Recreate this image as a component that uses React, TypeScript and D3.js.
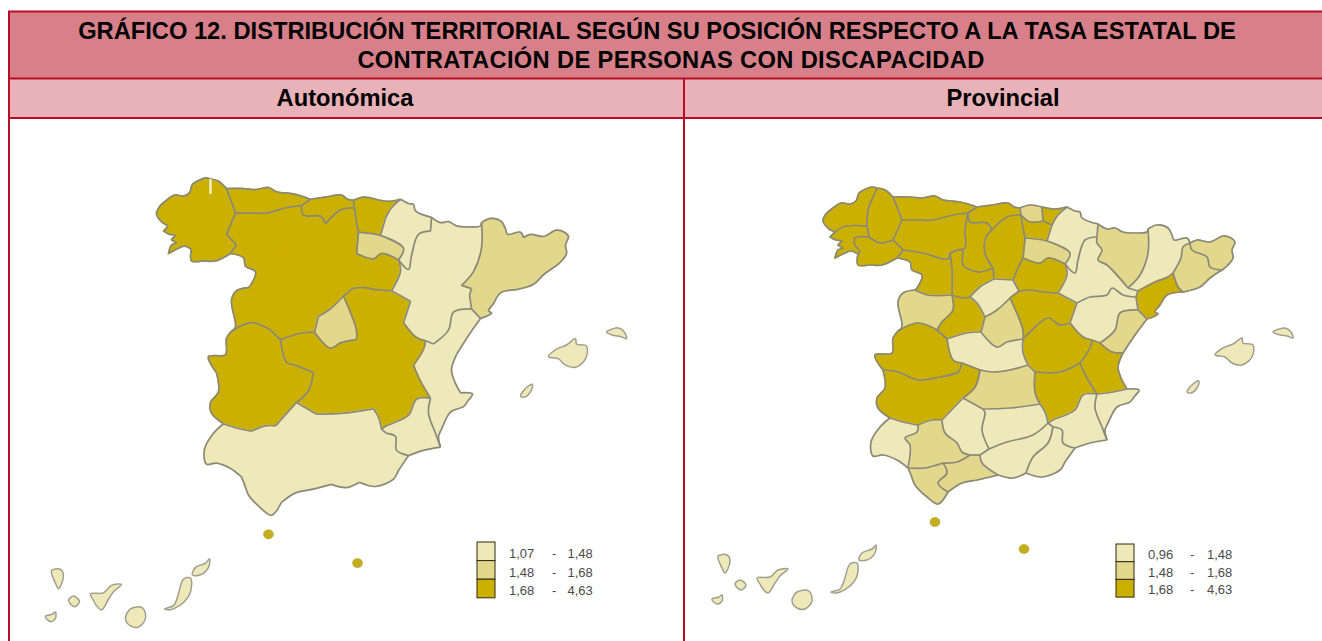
import React from 'react';
import * as d3 from 'd3';

const W = 1322, H = 641;
const FONT = '"Liberation Sans", Arial, sans-serif';

// colour classes: 0 = low, 1 = mid, 2 = high
const CLASS_COLORS = ['#EFE8B8', '#E3D78C', '#CCB000'];

const TITLE_LINES = [
  'GRÁFICO 12. DISTRIBUCIÓN TERRITORIAL SEGÚN SU POSICIÓN RESPECTO A LA TASA ESTATAL DE',
  'CONTRATACIÓN DE PERSONAS CON DISCAPACIDAD',
];
const PANEL_TITLES = ['Autonómica', 'Provincial'];
const LEGEND_AUTONOMICA = [['1,07', '1,48'], ['1,48', '1,68'], ['1,68', '4,63']];
const LEGEND_PROVINCIAL = [['0,96', '1,48'], ['1,48', '1,68'], ['1,68', '4,63']];

// province code -> class in the provincial map
const PROVINCE_CLASS: Record<string, number> = {
  ac: 2, lu: 2, po: 2, ou: 2, as: 2, cn: 2, bi: 1, ss: 2, vi: 2, na: 0, ri: 1,
  le: 2, pa: 2, bu: 2, zm: 2, vd: 2, so: 2, sa: 1, av: 2, sg: 0, md: 1, gu: 2,
  zg: 0, hu: 1, ll: 0, ge: 1, bc: 1, ta: 2, te: 0, cs: 1, vc: 2, cu: 2, to: 0,
  cr: 1, cc: 2, bj: 2, ab: 2, mu: 0, al: 0, ja: 0, cb: 0, se: 1, hv: 0, cd: 1,
  ma: 1, gr: 0, am: 0,
};

// autonomous communities and their class in the regional map
const COMMUNITIES: [string, number, string[]][] = [
  ['Galicia', 2, ['ac', 'lu', 'po', 'ou']],
  ['Asturias', 2, ['as']],
  ['Cantabria', 2, ['cn']],
  ['País Vasco', 2, ['bi', 'ss', 'vi']],
  ['Navarra', 0, ['na']],
  ['La Rioja', 1, ['ri']],
  ['Castilla y León', 2, ['le', 'pa', 'bu', 'zm', 'vd', 'so', 'sa', 'av', 'sg']],
  ['Madrid', 1, ['md']],
  ['Aragón', 0, ['zg', 'hu', 'te']],
  ['Cataluña', 1, ['ll', 'ge', 'bc', 'ta']],
  ['C. Valenciana', 0, ['cs', 'vc', 'al']],
  ['Castilla-La Mancha', 2, ['gu', 'cu', 'to', 'cr', 'ab']],
  ['Extremadura', 2, ['cc', 'bj']],
  ['Murcia', 0, ['mu']],
  ['Andalucía', 0, ['ja', 'cb', 'se', 'hv', 'cd', 'ma', 'gr', 'am']],
];

// shared borders in map grid units: "a-b" is between two provinces, "a" is coast or frontier
const BORDERS: [string, number[]][] = [
  ['ac', [830, 237, 834, 232, 829, 229, 823, 221, 826, 214, 833, 208, 841, 203, 850, 204, 856, 201, 859, 193, 866, 189, 872, 187, 877, 188]],
  ['po', [835, 258, 838, 250, 843, 248, 838, 245, 842, 241, 836, 240, 830, 237]],
  ['lu', [877, 188, 885, 190, 893, 197]],
  ['as', [893, 197, 910, 197, 922, 198, 935, 196, 943, 200, 960, 202, 977, 207]],
  ['cn', [977, 207, 992, 205, 1008, 203, 1014, 207, 1020, 208]],
  ['bi', [1020, 208, 1030, 205, 1042, 207]],
  ['ss', [1042, 207, 1055, 209, 1067, 207]],
  ['na', [1067, 207, 1075, 211, 1080, 212, 1082, 218, 1098, 224]],
  ['hu', [1098, 224, 1107, 229, 1115, 228, 1123, 232, 1136, 233, 1147, 232, 1148, 229]],
  ['ll', [1148, 229, 1157, 225, 1168, 228, 1172, 235, 1174, 240, 1187, 238, 1190, 243]],
  ['ge', [1190, 243, 1197, 240, 1210, 242, 1223, 236, 1231, 238, 1235, 242, 1232, 250, 1233, 258, 1228, 265, 1222, 270]],
  ['bc', [1222, 270, 1210, 278, 1200, 287, 1183, 292]],
  ['ta', [1183, 292, 1167, 295, 1160, 305, 1155, 312, 1158, 314, 1147, 319]],
  ['cs', [1147, 319, 1135, 335, 1123, 353]],
  ['vc', [1123, 353, 1118, 367, 1121, 378, 1127, 389]],
  ['al', [1127, 389, 1139, 390, 1134, 397, 1130, 402, 1117, 407, 1108, 423, 1105, 430, 1107, 440]],
  ['mu', [1107, 440, 1090, 443, 1075, 448]],
  ['am', [1075, 448, 1065, 462, 1060, 470, 1042, 477, 1026, 473]],
  ['gr', [1026, 473, 1013, 478, 998, 475]],
  ['ma', [998, 475, 977, 480, 962, 483, 948, 492]],
  ['cd', [948, 492, 938, 504, 927, 497, 915, 485, 911, 475, 908, 468]],
  ['hv', [908, 468, 897, 460, 883, 455, 873, 456, 871, 442, 880, 427, 890, 418]],
  ['bj', [890, 418, 878, 408, 877, 398, 885, 388, 883, 370]],
  ['cc', [883, 370, 875, 355, 892, 353, 893, 338, 898, 331]],
  ['sa', [898, 331, 902, 327, 898, 302, 903, 293, 915, 290]],
  ['zm', [915, 290, 917, 288, 922, 275, 912, 270, 910, 262, 897, 258]],
  ['ou', [897, 258, 882, 265, 870, 265, 858, 265, 858, 254]],
  ['po', [858, 254, 851, 251, 845, 253, 835, 258]],
  ['ac-po', [830, 237, 843, 227, 867, 226]],
  ['ac-lu', [867, 226, 868, 210, 873, 197, 877, 188]],
  ['po-lu', [867, 226, 869, 237]],
  ['po-ou', [869, 237, 855, 238, 855, 245, 860, 252, 858, 254]],
  ['lu-ou', [869, 237, 880, 243, 893, 240]],
  ['lu-as', [893, 197, 897, 207, 902, 220]],
  ['lu-le', [902, 220, 893, 240]],
  ['ou-le', [893, 240, 903, 250]],
  ['ou-zm', [903, 250, 897, 258]],
  ['as-le', [902, 220, 917, 220, 933, 220, 953, 215, 968, 213]],
  ['as-cn', [977, 207, 968, 213]],
  ['le-pa', [968, 213, 965, 230, 965, 248, 957, 250, 950, 253]],
  ['cn-pa', [968, 213, 970, 222, 987, 223, 992, 230]],
  ['cn-bu', [992, 230, 1007, 217, 1021, 215]],
  ['cn-bi', [1020, 208, 1021, 215]],
  ['bi-vi', [1021, 215, 1030, 222, 1043, 221]],
  ['bi-ss', [1042, 207, 1043, 221]],
  ['ss-vi', [1043, 221, 1052, 225]],
  ['ss-na', [1052, 225, 1058, 215, 1067, 207]],
  ['vi-bu', [1021, 215, 1023, 228, 1025, 238]],
  ['vi-ri', [1025, 238, 1043, 240, 1047, 241]],
  ['vi-na', [1052, 225, 1047, 241]],
  ['bu-ri', [1025, 238, 1023, 258]],
  ['ri-so', [1023, 258, 1040, 263, 1048, 258, 1065, 264]],
  ['ri-na', [1047, 241, 1070, 253, 1065, 264]],
  ['na-zg', [1065, 264, 1075, 273, 1078, 260, 1085, 240, 1097, 237]],
  ['na-hu', [1098, 224, 1097, 237]],
  ['hu-zg', [1097, 237, 1097, 243, 1102, 250, 1098, 260, 1107, 265, 1128, 288]],
  ['hu-ll', [1148, 229, 1148, 253, 1140, 275, 1128, 288]],
  ['zg-ll', [1128, 288, 1138, 291]],
  ['ll-bc', [1190, 243, 1183, 247, 1181, 258, 1173, 273]],
  ['ge-bc', [1190, 243, 1192, 250, 1207, 257, 1210, 267, 1222, 270]],
  ['ll-ta', [1138, 291, 1155, 282, 1168, 277, 1173, 273]],
  ['bc-ta', [1173, 273, 1178, 287, 1183, 292]],
  ['zg-ta', [1138, 291, 1136, 297]],
  ['te-ta', [1136, 297, 1138, 310]],
  ['ta-cs', [1138, 310, 1147, 319]],
  ['te-cs', [1138, 310, 1120, 313, 1115, 330, 1100, 343]],
  ['zg-so', [1065, 264, 1067, 275, 1058, 293]],
  ['zg-gu', [1058, 293, 1077, 303]],
  ['zg-te', [1077, 303, 1090, 297, 1107, 295, 1112, 288, 1123, 295, 1136, 297]],
  ['te-gu', [1077, 303, 1070, 323]],
  ['te-cu', [1070, 323, 1083, 337, 1092, 340]],
  ['te-vc', [1092, 340, 1100, 343]],
  ['cs-vc', [1100, 343, 1112, 352, 1123, 353]],
  ['cu-vc', [1092, 340, 1090, 348, 1080, 363]],
  ['ab-vc', [1080, 363, 1087, 378, 1097, 394]],
  ['vc-al', [1097, 394, 1113, 392, 1127, 389]],
  ['al-mu', [1097, 394, 1095, 408, 1102, 427, 1107, 440]],
  ['ab-mu', [1097, 394, 1083, 395, 1075, 410, 1053, 420, 1048, 423]],
  ['gr-mu', [1048, 423, 1053, 427]],
  ['am-mu', [1053, 427, 1062, 430, 1063, 443, 1075, 448]],
  ['gr-am', [1053, 427, 1048, 443, 1033, 457, 1026, 473]],
  ['ab-ja', [1048, 423, 1045, 412, 1040, 404]],
  ['ab-cr', [1040, 404, 1035, 392, 1035, 372]],
  ['ab-cu', [1035, 372, 1060, 372, 1080, 363]],
  ['cu-cr', [1028, 365, 1035, 372]],
  ['to-cu', [1023, 339, 1023, 352, 1028, 365]],
  ['to-cr', [980, 370, 993, 372, 1010, 370, 1028, 365]],
  ['to-bj', [962, 363, 980, 370]],
  ['to-cc', [947, 339, 953, 360, 962, 363]],
  ['to-av', [947, 339, 967, 333, 981, 332]],
  ['to-md', [981, 332, 997, 347, 1007, 342, 1023, 339]],
  ['cc-bj', [883, 370, 898, 372, 918, 380, 940, 377, 958, 372, 962, 363]],
  ['bj-cr', [980, 370, 975, 387, 963, 398]],
  ['cr-cb', [963, 398, 983, 409]],
  ['cr-ja', [983, 409, 1010, 408, 1040, 404]],
  ['bj-cb', [963, 398, 942, 420]],
  ['bj-se', [942, 420, 932, 420, 918, 425]],
  ['bj-hv', [918, 425, 903, 422, 890, 418]],
  ['hv-se', [918, 425, 917, 432, 905, 438, 910, 445, 908, 468]],
  ['se-cd', [908, 468, 925, 468, 943, 463]],
  ['se-ma', [943, 463, 957, 462, 970, 455]],
  ['se-cb', [942, 420, 945, 433, 957, 443, 962, 452, 970, 455]],
  ['cb-ma', [970, 455, 980, 455]],
  ['cb-gr', [980, 455, 989, 449]],
  ['cb-ja', [983, 409, 985, 413, 982, 430, 989, 449]],
  ['ja-gr', [989, 449, 1007, 442, 1033, 435, 1048, 423]],
  ['gr-ma', [980, 455, 982, 463, 998, 475]],
  ['ma-cd', [943, 463, 947, 473, 938, 483, 948, 492]],
  ['cc-sa', [898, 331, 918, 323, 937, 330]],
  ['cc-av', [937, 330, 947, 339]],
  ['sa-av', [937, 330, 942, 322, 953, 310, 952, 295]],
  ['sa-zm', [915, 290, 928, 295, 952, 295]],
  ['zm-le', [903, 250, 923, 253, 948, 259, 950, 253]],
  ['zm-vd', [950, 253, 952, 270, 952, 295]],
  ['vd-av', [952, 295, 963, 298, 970, 297]],
  ['vd-sg', [970, 297, 980, 287, 994, 279]],
  ['vd-bu', [993, 268, 994, 279]],
  ['vd-pa', [950, 253, 962, 250, 963, 265, 978, 272, 993, 268]],
  ['pa-bu', [993, 268, 985, 253, 986, 237, 992, 230]],
  ['bu-sg', [994, 279, 1013, 280]],
  ['bu-so', [1013, 280, 1018, 268, 1023, 258]],
  ['sg-so', [1013, 280, 1019, 291]],
  ['sg-gu', [1019, 291, 1010, 298]],
  ['so-gu', [1019, 291, 1030, 290, 1043, 292, 1058, 293]],
  ['sg-av', [970, 297, 977, 303, 985, 317]],
  ['md-sg', [985, 317, 997, 310, 1010, 298]],
  ['md-av', [985, 317, 981, 332]],
  ['md-gu', [1010, 298, 1023, 330, 1023, 339]],
  ['gu-cu', [1023, 339, 1032, 330, 1048, 318, 1060, 325, 1070, 323]],
];

// islands, always class 0
const ISLANDS: number[][] = [
  [1215, 355, 1223, 348, 1233, 344, 1242, 338, 1243, 343, 1253, 345, 1252, 357, 1242, 365, 1232, 363, 1225, 357],
  [1273, 332, 1279, 329, 1285, 328, 1291, 332, 1293, 338, 1287, 336, 1280, 335],
  [1187, 392, 1193, 384, 1199, 381, 1197, 388, 1191, 393],
  [718, 556, 727, 555, 730, 561, 725, 573, 722, 568],
  [735, 584, 740, 580, 746, 585, 741, 590],
  [712, 599, 719, 597, 722, 595, 722, 601, 718, 604, 715, 603],
  [757, 578, 770, 577, 778, 570, 788, 569, 780, 576, 775, 583, 768, 593, 763, 589, 760, 584],
  [797, 592, 809, 591, 812, 601, 805, 609, 797, 608, 792, 601],
  [831, 592, 840, 589, 844, 581, 850, 564, 857, 563, 857, 576, 850, 586, 840, 592, 836, 593],
  [859, 560, 862, 553, 872, 549, 876, 545, 875, 553, 867, 560],
];

const CITIES = [[935, 522], [1024, 549]]; // Ceuta, Melilla
const GALICIA_NOTCH = [877, 188, 877, 202];

type Pt = [number, number];

const toPts = (flat: number[]): Pt[] => d3.range(0, flat.length, 2).map(i => [flat[i], flat[i + 1]] as Pt);
const same = (a: Pt, b: Pt) => a[0] === b[0] && a[1] === b[1];

// chain the border pieces of one province into oriented pieces of a closed ring
function buildRing(code: string): Pt[][] {
  const pieces = BORDERS.filter(([k]) => k.split('-').includes(code)).map(([, f]) => toPts(f));
  const ring = [pieces.shift()!];
  while (pieces.length) {
    const last = ring[ring.length - 1];
    const end = last[last.length - 1];
    let i = pieces.findIndex(p => same(p[0], end) || same(p[p.length - 1], end));
    if (i < 0) {
      console.warn('open ring', code, end);
      i = 0;
    }
    const [p] = pieces.splice(i, 1);
    ring.push(same(p[0], end) ? p : p.slice().reverse());
  }
  return ring;
}

const communityOf: Record<string, string> = {};
const communityClass: Record<string, number> = {};
for (const [name, cls, members] of COMMUNITIES) {
  for (const m of members) {
    communityOf[m] = name;
    communityClass[m] = cls;
  }
}

const RINGS = Object.keys(PROVINCE_CLASS).map(code => ({ code, ring: buildRing(code) }));

function SpainMap({ regional, x, y }: { regional: boolean; x: d3.ScaleLinear<number, number>; y: d3.ScaleLinear<number, number> }) {
  const line = d3.line<Pt>().x(d => x(d[0])).y(d => y(d[1])).curve(d3.curveCatmullRom.alpha(0.5));
  const island = d3.line<Pt>().x(d => x(d[0])).y(d => y(d[1])).curve(d3.curveCatmullRomClosed.alpha(0.5));
  const ringPath = (ring: Pt[][]) =>
    ring.map((p, i) => (i ? line(p)!.replace(/^M/, 'L') : line(p)!)).join('') + 'Z';

  const visible = BORDERS.filter(([k]) => {
    if (!regional) return true;
    const [a, b] = k.split('-');
    return !b || communityOf[a] !== communityOf[b];
  });

  return (
    <g filter="url(#soft)">
      {RINGS.map(({ code, ring }) => {
        const c = CLASS_COLORS[regional ? communityClass[code] : PROVINCE_CLASS[code]];
        return <path key={code} d={ringPath(ring)} fill={c} stroke={c} strokeWidth={1.6} />;
      })}
      {visible.map(([k, f], i) => (
        <path key={i} d={line(toPts(f))!} fill="none" stroke="#8A897A" strokeWidth={1.7} strokeLinejoin="round" />
      ))}
      {ISLANDS.map((f, i) => (
        <path key={i} d={island(toPts(f))!} fill={CLASS_COLORS[0]} stroke="#A09F90" strokeWidth={1.5} strokeLinejoin="round" />
      ))}
      {CITIES.map(([cx, cy], i) => (
        <ellipse key={i} cx={x(cx)} cy={y(cy)} rx={5} ry={4.6} fill="#C4AE1C" stroke="#B5A640" strokeWidth={0.6} />
      ))}
      {regional && (
        <line x1={x(GALICIA_NOTCH[0])} x2={x(GALICIA_NOTCH[0])} y1={y(GALICIA_NOTCH[1])} y2={y(GALICIA_NOTCH[3])}
          stroke="#F3EDC4" strokeWidth={2.6} />
      )}
    </g>
  );
}

function Legend({ rows, boxX, boxY, textX, dashX, hiX, rowH, baseY }: {
  rows: string[][]; boxX: number; boxY: number; textX: number; dashX: number; hiX: number; rowH: number; baseY: number;
}) {
  return (
    <g fontFamily={FONT} fontSize={13} fill="#4A4A4A">
      {rows.map((r, i) => (
        <g key={i}>
          <rect x={boxX} y={boxY + i * rowH} width={18} height={rowH} fill={CLASS_COLORS[i]} stroke="#2E2A10" strokeWidth={1} />
          <text x={textX} y={baseY + i * rowH}>{r[0]}</text>
          <text x={dashX} y={baseY + i * rowH}>-</text>
          <text x={hiX} y={baseY + i * rowH}>{r[1]}</text>
        </g>
      ))}
    </g>
  );
}

export default function App() {
  // the two maps share a grid: the regional one sits 666.5px left and is stretched vertically
  const xProv = d3.scaleLinear().domain([800, 1300]).range([800, 1300]);
  const yProv = d3.scaleLinear().domain([180, 610]).range([180, 610]);
  const xAuto = d3.scaleLinear().domain([800, 1300]).range([133.5, 633.5]);
  const yAuto = d3.scaleLinear().domain([180, 610]).range([170.5, 628]);

  const RED = '#B80D27';
  return (
    <svg width={W} height={H} viewBox={`0 0 ${W} ${H}`} style={{ position: 'absolute', left: 0, top: 0, background: '#fff' }}>
      <defs>
        <filter id="soft" x="-5%" y="-5%" width="110%" height="110%">
          <feGaussianBlur stdDeviation={0.35} />
        </filter>
      </defs>
      <rect x={9} y={11} width={W - 9} height={67} fill="#D8808A" />
      <rect x={9} y={79} width={W - 9} height={38} fill="#E8B2B8" />
      <g stroke={RED} strokeWidth={2}>
        <line x1={8} x2={W} y1={11.5} y2={11.5} />
        <line x1={8} x2={W} y1={78.5} y2={78.5} />
        <line x1={8} x2={W} y1={118} y2={118} />
        <line x1={9} x2={9} y1={11} y2={H} />
        <line x1={684} x2={684} y1={78} y2={H} />
      </g>
      <g fontFamily={FONT} fontWeight="bold" fontSize={23.7} fill="#000" textAnchor="middle">
        <text x={657} y={39}>{TITLE_LINES[0]}</text>
        <text x={671} y={68} letterSpacing={0.34}>{TITLE_LINES[1]}</text>
        <text x={345} y={106}>{PANEL_TITLES[0]}</text>
        <text x={1003} y={106}>{PANEL_TITLES[1]}</text>
      </g>
      <SpainMap regional x={xAuto} y={yAuto} />
      <SpainMap regional={false} x={xProv} y={yProv} />
      <Legend rows={LEGEND_AUTONOMICA} boxX={477} boxY={542} textX={509} dashX={552} hiX={567.5} rowH={18.6} baseY={558} />
      <Legend rows={LEGEND_PROVINCIAL} boxX={1116} boxY={544} textX={1148} dashX={1190} hiX={1207} rowH={17.7} baseY={559} />
    </svg>
  );
}
